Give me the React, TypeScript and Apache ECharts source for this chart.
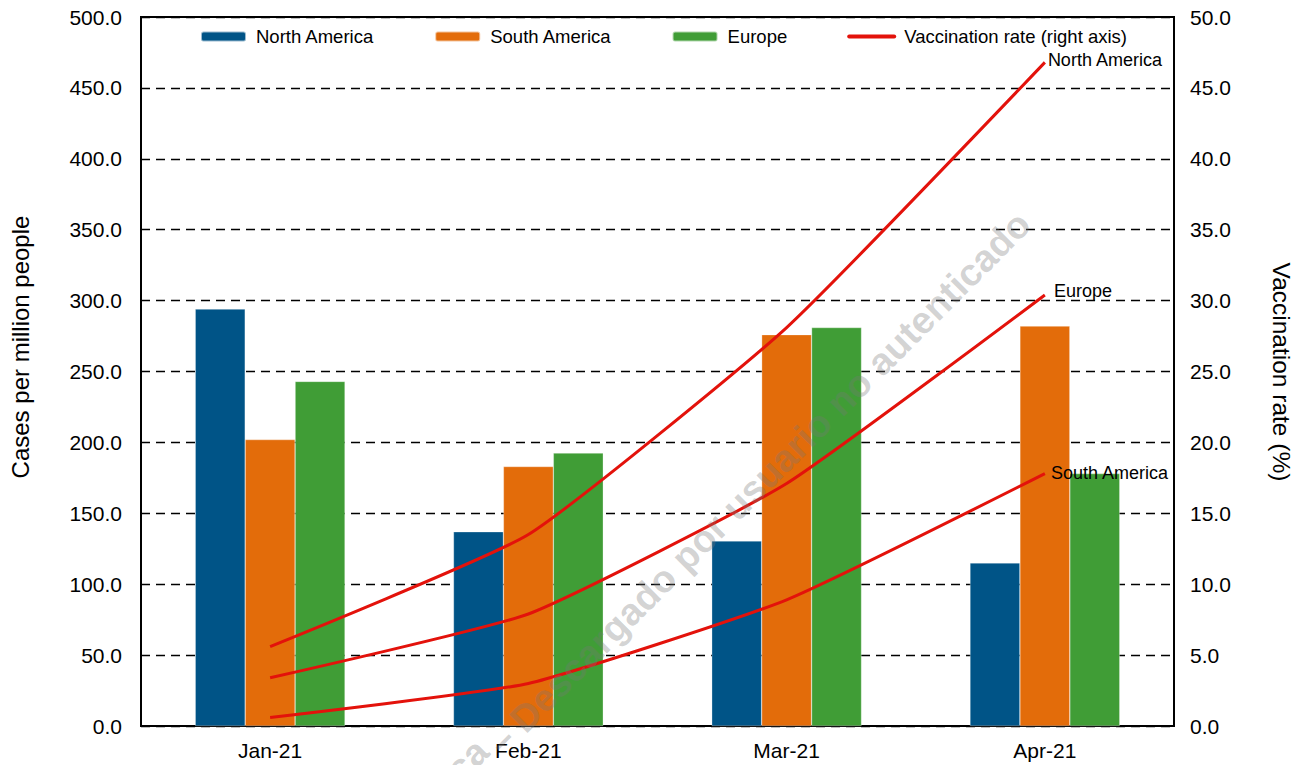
import React, { useEffect, useRef } from "react";
import * as echarts from "echarts";

const categories = ["Jan-21", "Feb-21", "Mar-21", "Apr-21"];
const casesNorthAmerica = [294, 137, 130.5, 115];
const casesSouthAmerica = [202, 183, 276, 282];
const casesEurope = [243, 192.5, 281, 178];
const vaccNorthAmerica = [5.6, 13.5, 28.1, 46.8];
const vaccEurope = [3.4, 7.9, 17.1, 30.4];
const vaccSouthAmerica = [0.6, 3.0, 8.9, 17.8];
const leftTicks = { min: 0, max: 500, interval: 50 };
const rightTicks = { min: 0, max: 50, interval: 5 };

const FONT = "Liberation Sans, Arial, sans-serif";
const VAC_NAME = "Vaccination rate (right axis)";

function lineSeries(values: number[], label: string, offset: number[]) {
  return {
    name: VAC_NAME,
    type: "line",
    yAxisIndex: 1,
    symbol: "none",
    smooth: 0.15,
    lineStyle: { color: "#E3120B", width: 3 },
    itemStyle: { color: "#E3120B" },
    z: 5,
    endLabel: {
      show: true,
      distance: 3,
      offset,
      formatter: label,
      color: "#000",
      fontFamily: FONT,
      fontSize: 18,
    },
    data: values,
  };
}

export default function App() {
  const ref = useRef<HTMLDivElement>(null);
  useEffect(() => {
    const chart = echarts.init(ref.current!, null, { renderer: "svg" });
    const barStyle = (c: string) => ({ color: c, borderColor: "rgba(255,255,255,0.6)", borderWidth: 0.5 });
    const wm = {
      fontFamily: FONT,
      fontWeight: "bold",
      fontSize: 38,
      fill: "rgba(120,120,120,0.32)",
      align: "right",
      verticalAlign: "middle",
    };
    chart.setOption({
      animation: false,
      backgroundColor: "#fff",
      textStyle: { fontFamily: FONT },
      grid: { left: 141, right: 132, top: 17, bottom: 39, show: true, borderColor: "#000", borderWidth: 2, containLabel: false },
      legend: {
        left: 200,
        top: 27,
        padding: 0,
        itemGap: 60,
        itemWidth: 45,
        itemHeight: 10,
        textStyle: { fontFamily: FONT, fontSize: 18.5, color: "#000", padding: [0, 0, 0, 5] },
        data: [
          "North America",
          "South America",
          "Europe",
          { name: VAC_NAME, itemStyle: { opacity: 0 }, lineStyle: { width: 4, cap: "round" } },
        ],
      },
      xAxis: {
        type: "category",
        data: categories,
        axisLine: { lineStyle: { color: "#000", width: 2 } },
        axisTick: { show: false },
        axisLabel: { color: "#000", fontSize: 21, margin: 14, fontFamily: FONT },
      },
      yAxis: [
        {
          type: "value",
          ...leftTicks,
          axisLine: { show: true, lineStyle: { color: "#000", width: 2 } },
          axisTick: { show: false },
          axisLabel: { color: "#000", fontSize: 21, margin: 19, formatter: (v: number) => v.toFixed(1) },
          splitLine: { show: true, lineStyle: { color: "#000", width: 1.3, type: [9, 6] } },
        },
        {
          type: "value",
          ...rightTicks,
          position: "right",
          axisLine: { show: true, lineStyle: { color: "#000", width: 2 } },
          axisTick: { show: false },
          axisLabel: { color: "#000", fontSize: 21, margin: 16, formatter: (v: number) => v.toFixed(1) },
          splitLine: { show: false },
        },
      ],
      series: [
        { name: "North America", type: "bar", data: casesNorthAmerica, itemStyle: barStyle("#005487"), barGap: "0%", barCategoryGap: "42%" },
        { name: "South America", type: "bar", data: casesSouthAmerica, itemStyle: barStyle("#E36C0A") },
        { name: "Europe", type: "bar", data: casesEurope, itemStyle: barStyle("#409D36") },
        lineSeries(vaccNorthAmerica, "North America", [0, -2]),
        lineSeries(vaccEurope, "Europe", [6, -4]),
        lineSeries(vaccSouthAmerica, "South America", [3, -1]),
      ],
      graphic: [
        {
          type: "text",
          x: 20,
          y: 347,
          rotation: Math.PI / 2,
          style: { text: "Cases per million people", fontFamily: FONT, fontSize: 24, fill: "#000", align: "center", verticalAlign: "middle" },
        },
        {
          type: "text",
          x: 1281,
          y: 372,
          rotation: -Math.PI / 2,
          style: { text: "Vaccination rate (%)", fontFamily: FONT, fontSize: 24.5, fill: "#000", align: "center", verticalAlign: "middle" },
        },
        {
          type: "text",
          x: 1024,
          y: 218,
          rotation: Math.PI / 4,
          z: 100,
          silent: true,
          style: { ...wm, text: "– Descargado por usuario no autenticado" },
        },
        {
          type: "text",
          x: 482,
          y: 745,
          rotation: Math.PI / 4,
          z: 100,
          silent: true,
          style: { ...wm, text: "ca" },
        },
      ],
    });
    return () => chart.dispose();
  }, []);
  return <div ref={ref} style={{ width: 1306, height: 765, position: "absolute", left: 0, top: 0 }} />;
}
